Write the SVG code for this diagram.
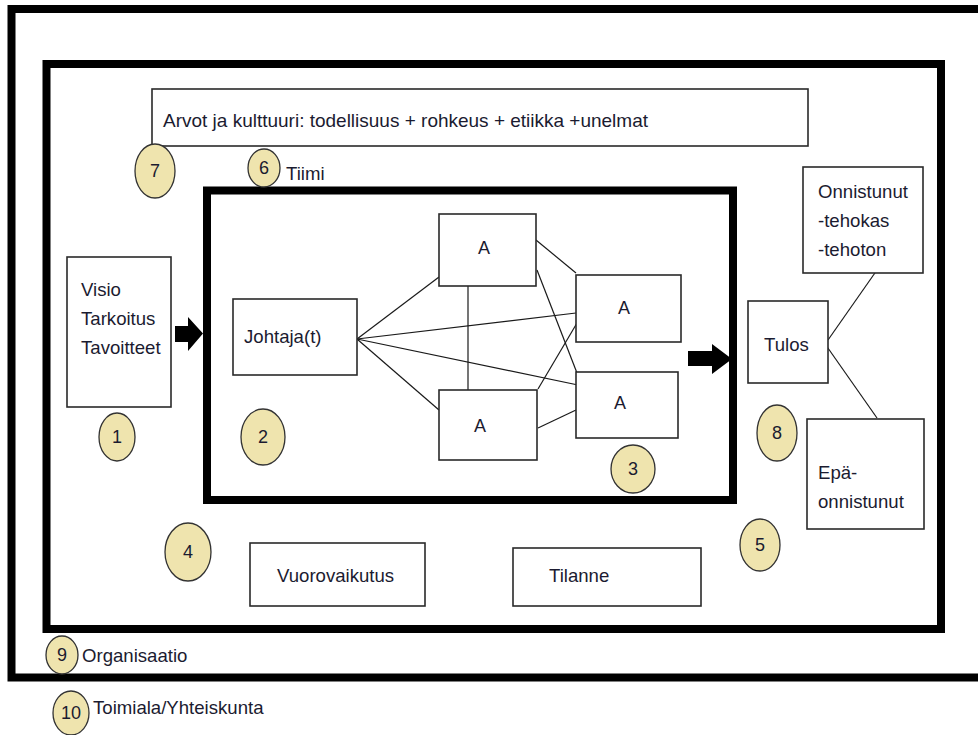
<svg xmlns="http://www.w3.org/2000/svg" width="978" height="735" viewBox="0 0 978 735">
  <style>
    .frame { fill: none; stroke: #000; stroke-width: 8; }
    .box { fill: #fff; stroke: #2a2a2a; stroke-width: 1.6; }
    .badge { fill: #EFE4AE; stroke: #333; stroke-width: 1.3; }
    .link { stroke: #1a1a1a; stroke-width: 1.2; fill: none; }
    .t { font-family: "Liberation Sans", Arial, sans-serif; font-size: 18.6px; fill: #1b1b30; }
    .n { font-family: "Liberation Sans", Arial, sans-serif; font-size: 18px; fill: #1b1b30; text-anchor: middle; }
    .arrow { fill: #000; }
  </style>
  <rect x="0" y="0" width="978" height="735" fill="#fff"/>

  <!-- nested frames: society, organisation, team -->
  <g id="frame-society">
    <path class="frame" d="M 990 9 H 11.5 V 677.5 H 990"/>
  </g>
  <g id="frame-organisation">
    <rect class="frame" x="46.5" y="64" width="894.5" height="565"/>
  </g>
  <g id="frame-team">
    <rect class="frame" x="207" y="190.5" width="526" height="309.5"/>
  </g>

  <!-- connectors -->
  <g id="connectors">
    <line class="link" x1="357" y1="339" x2="439" y2="277"/>
    <line class="link" x1="357" y1="339" x2="576" y2="313"/>
    <line class="link" x1="357" y1="339" x2="578" y2="385"/>
    <line class="link" x1="357" y1="339" x2="439" y2="410"/>
    <line class="link" x1="468" y1="286" x2="468" y2="390"/>
    <line class="link" x1="536" y1="240" x2="576" y2="273"/>
    <line class="link" x1="537" y1="270" x2="577" y2="373"/>
    <line class="link" x1="538" y1="389" x2="577" y2="323"/>
    <line class="link" x1="538" y1="428" x2="576" y2="410"/>
    <line class="link" x1="828" y1="340" x2="877" y2="270"/>
    <line class="link" x1="823" y1="341" x2="877" y2="418"/>
    <polygon class="arrow" points="175,326 188,326 188,317 203,333.5 188,351 188,342 175,342"/>
    <polygon class="arrow" points="688,351 712,351 712,344 732,359 712,374 712,366 688,366"/>
  </g>

  <g id="values">
    <rect class="box" x="152" y="89" width="656" height="57"/>
    <text class="t" x="163" y="127" textLength="485" lengthAdjust="spacingAndGlyphs">Arvot ja kulttuuri:  todellisuus + rohkeus + etiikka +unelmat</text>
  </g>

  <g id="vision">
    <rect class="box" x="67" y="257" width="104" height="150"/>
    <text class="t" x="81" y="296">Visio</text>
    <text class="t" x="81" y="325">Tarkoitus</text>
    <text class="t" x="81" y="354">Tavoitteet</text>
  </g>

  <g id="leader">
    <rect class="box" x="233" y="299" width="124" height="76"/>
    <text class="t" x="244" y="343">Johtaja(t)</text>
  </g>

  <g id="member-top">
    <rect class="box" x="439" y="214" width="97" height="72"/>
    <text class="n" x="484" y="254">A</text>
  </g>
  <g id="member-right-top">
    <rect class="box" x="576" y="275" width="105" height="67"/>
    <text class="n" x="624" y="314">A</text>
  </g>
  <g id="member-right-bottom">
    <rect class="box" x="576" y="372" width="102" height="66"/>
    <text class="n" x="620" y="409">A</text>
  </g>
  <g id="member-bottom">
    <rect class="box" x="439" y="390" width="98" height="70"/>
    <text class="n" x="480" y="432">A</text>
  </g>

  <g id="result">
    <rect class="box" x="748" y="301" width="80" height="82"/>
    <text class="t" x="764" y="351">Tulos</text>
  </g>
  <g id="success">
    <rect class="box" x="803" y="167" width="120" height="106"/>
    <text class="t" x="818" y="198">Onnistunut</text>
    <text class="t" x="818" y="227">-tehokas</text>
    <text class="t" x="818" y="256">-tehoton</text>
  </g>
  <g id="failure">
    <rect class="box" x="807" y="419" width="117" height="110"/>
    <text class="t" x="818" y="479">Epä-</text>
    <text class="t" x="818" y="508">onnistunut</text>
  </g>

  <g id="interaction">
    <rect class="box" x="250" y="543" width="175" height="63"/>
    <text class="t" x="277" y="582">Vuorovaikutus</text>
  </g>
  <g id="situation">
    <rect class="box" x="513" y="548" width="188" height="58"/>
    <text class="t" x="549" y="582">Tilanne</text>
  </g>

  <!-- numbered badges -->
  <g id="badge-1"><ellipse class="badge" cx="117" cy="437" rx="18" ry="24"/><text class="n" x="117" y="443">1</text></g>
  <g id="badge-2"><ellipse class="badge" cx="263" cy="437" rx="22" ry="28"/><text class="n" x="263" y="443">2</text></g>
  <g id="badge-3"><ellipse class="badge" cx="633" cy="469" rx="22" ry="24"/><text class="n" x="633" y="475">3</text></g>
  <g id="badge-4"><ellipse class="badge" cx="188" cy="552" rx="23" ry="29"/><text class="n" x="188" y="558">4</text></g>
  <g id="badge-5"><ellipse class="badge" cx="760" cy="545" rx="20" ry="26"/><text class="n" x="760" y="551">5</text></g>
  <g id="badge-6"><ellipse class="badge" cx="264" cy="168" rx="16" ry="19"/><text class="n" x="264" y="174">6</text><text class="t" x="286" y="180">Tiimi</text></g>
  <g id="badge-7"><ellipse class="badge" cx="155" cy="171" rx="20" ry="27"/><text class="n" x="155" y="177">7</text></g>
  <g id="badge-8"><ellipse class="badge" cx="777" cy="433" rx="20" ry="28"/><text class="n" x="777" y="439">8</text></g>
  <g id="badge-9"><ellipse class="badge" cx="62" cy="655" rx="16" ry="19"/><text class="n" x="62" y="661">9</text><text class="t" x="82" y="662">Organisaatio</text></g>
  <g id="badge-10"><ellipse class="badge" cx="71" cy="713" rx="18" ry="22"/><text class="n" x="71" y="719">10</text><text class="t" x="93" y="714">Toimiala/Yhteiskunta</text></g>
</svg>
